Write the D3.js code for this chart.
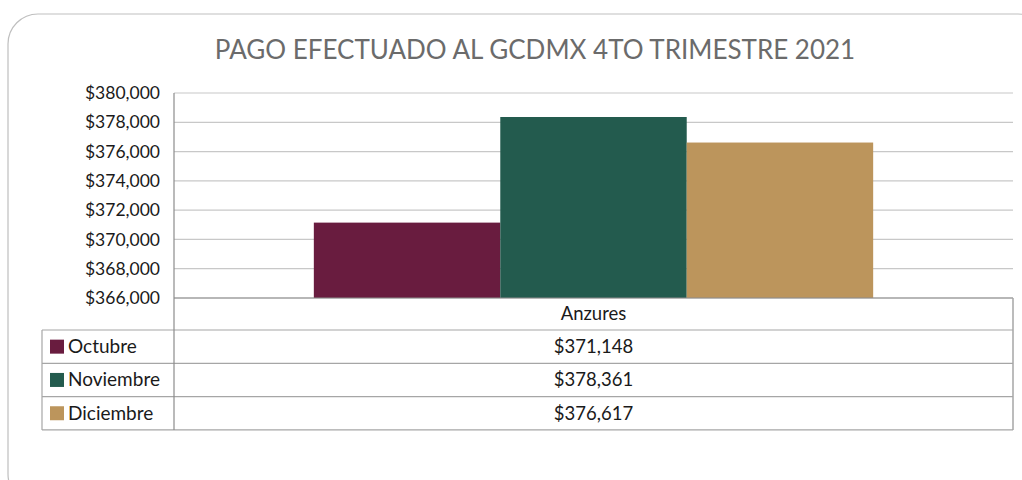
<!DOCTYPE html>
<html>
<head>
<meta charset="utf-8">
<script src="https://cdn.jsdelivr.net/npm/d3@7"></script>
<style>
  body { margin: 0; background: #fff; }
  text { font-family: Lato, "Open Sans", sans-serif; }
</style>
</head>
<body>
<div id="chart"></div>
<script>
// --- Données ---
const categories = ["Anzures"];
const months = ["Octubre", "Noviembre", "Diciembre"];
const values = [371148, 378361, 376617];
const colors = ["#691c3f", "#235b4e", "#bc955c"];
const yTicks = [366000, 368000, 370000, 372000, 374000, 376000, 378000, 380000];
const title = "PAGO EFECTUADO AL GCDMX 4TO TRIMESTRE 2021";

const width = 1022, height = 480;
const plot = { left: 174, right: 1013, top: 93, bottom: 298 };
const rowH = 33.3;
const tableLeft = 42;
const tableTop = 330;

const svg = d3.select("#chart").append("svg")
  .attr("width", width)
  .attr("height", height);

// cadre arrondi
svg.append("rect")
  .attr("x", 8).attr("y", 14)
  .attr("width", 1040).attr("height", 490)
  .attr("rx", 30)
  .attr("fill", "none")
  .attr("stroke", "#bfbfbf")
  .attr("stroke-width", 1.2);

// titre
svg.append("text")
  .attr("x", 535).attr("y", 59)
  .attr("text-anchor", "middle")
  .attr("font-size", 26)
  .attr("fill", "#6b6b6b")
  .text(title);

// --- Scales ---
const y = d3.scaleLinear()
  .domain([366000, 380000])
  .range([plot.bottom, plot.top]);

const x0 = d3.scaleBand()
  .domain(categories)
  .range([plot.left, plot.right]);

const x1 = d3.scaleBand()
  .domain(months)
  .range([0, x0.bandwidth()])
  .paddingInner(0)
  .paddingOuter(0.75);

// grille
svg.append("g")
  .selectAll("line")
  .data(yTicks)
  .join("line")
  .attr("x1", plot.left).attr("x2", plot.right)
  .attr("y1", d => y(d)).attr("y2", d => y(d))
  .attr("stroke", "#c8c8c8")
  .attr("stroke-width", 1.2);

// axe Y (étiquettes)
const yAxis = svg.append("g")
  .attr("transform", `translate(${plot.left},0)`)
  .call(d3.axisLeft(y).tickValues(yTicks).tickSize(0).tickPadding(14)
    .tickFormat(d => "$" + d3.format(",")(d)));
yAxis.select(".domain").remove();
yAxis.selectAll("text")
  .attr("font-size", 17.5)
  .attr("fill", "#1a1a1a")
  .style("font-family", "Lato, sans-serif");

// --- Barres ---
const groups = svg.append("g")
  .selectAll("g")
  .data(categories)
  .join("g")
  .attr("transform", d => `translate(${x0(d)},0)`);

groups.selectAll("rect")
  .data(() => months.map((m, i) => ({ month: m, value: values[i], color: colors[i] })))
  .join("rect")
  .attr("x", d => x1(d.month))
  .attr("width", x1.bandwidth())
  .attr("y", d => y(d.value))
  .attr("height", d => y(366000) - y(d.value))
  .attr("fill", d => d.color);

// --- Table de données ---
const lineColor = "#a6a6a6";
const tbl = svg.append("g");
const tableBottom = tableTop + rowH * months.length;

// axe horizontal (bas du graphique)
tbl.append("line")
  .attr("x1", plot.left).attr("x2", plot.right)
  .attr("y1", plot.bottom).attr("y2", plot.bottom)
  .attr("stroke", "#8c8c8c").attr("stroke-width", 1.2);

// lignes horizontales
tbl.selectAll(".hline")
  .data(d3.range(months.length + 1))
  .join("line")
  .attr("class", "hline")
  .attr("x1", tableLeft).attr("x2", plot.right)
  .attr("y1", i => tableTop + i * rowH).attr("y2", i => tableTop + i * rowH)
  .attr("stroke", lineColor).attr("stroke-width", 1.2);

// verticales
tbl.append("line")
  .attr("x1", plot.left).attr("x2", plot.left)
  .attr("y1", plot.top).attr("y2", tableBottom)
  .attr("stroke", "#8c8c8c").attr("stroke-width", 1.2);
tbl.append("line")
  .attr("x1", plot.right).attr("x2", plot.right)
  .attr("y1", plot.bottom).attr("y2", tableBottom)
  .attr("stroke", lineColor).attr("stroke-width", 1.5);
tbl.append("line")
  .attr("x1", tableLeft).attr("x2", tableLeft)
  .attr("y1", tableTop).attr("y2", tableBottom)
  .attr("stroke", lineColor).attr("stroke-width", 1.2);

// étiquette de catégorie
tbl.selectAll(".cat")
  .data(categories)
  .join("text")
  .attr("class", "cat")
  .attr("x", d => x0(d) + x0.bandwidth() / 2)
  .attr("y", (plot.bottom + tableTop) / 2 + 6)
  .attr("text-anchor", "middle")
  .attr("font-size", 18.5)
  .attr("fill", "#1a1a1a")
  .text(d => d);

// lignes de la table
const rows = tbl.selectAll(".row")
  .data(months.map((m, i) => ({ month: m, value: values[i], color: colors[i], i })))
  .join("g")
  .attr("class", "row")
  .attr("transform", d => `translate(0,${tableTop + d.i * rowH})`);

rows.append("rect")
  .attr("x", 50).attr("y", rowH / 2 - 7)
  .attr("width", 14).attr("height", 14)
  .attr("fill", d => d.color);

rows.append("text")
  .attr("x", 68).attr("y", rowH / 2 + 6.5)
  .attr("font-size", 19)
  .attr("fill", "#1a1a1a")
  .text(d => d.month);

rows.append("text")
  .attr("x", x0(categories[0]) + x0.bandwidth() / 2)
  .attr("y", rowH / 2 + 6.5)
  .attr("text-anchor", "middle")
  .attr("font-size", 18.5)
  .attr("fill", "#1a1a1a")
  .text(d => "$" + d3.format(",")(d.value));
</script>
</body>
</html>
